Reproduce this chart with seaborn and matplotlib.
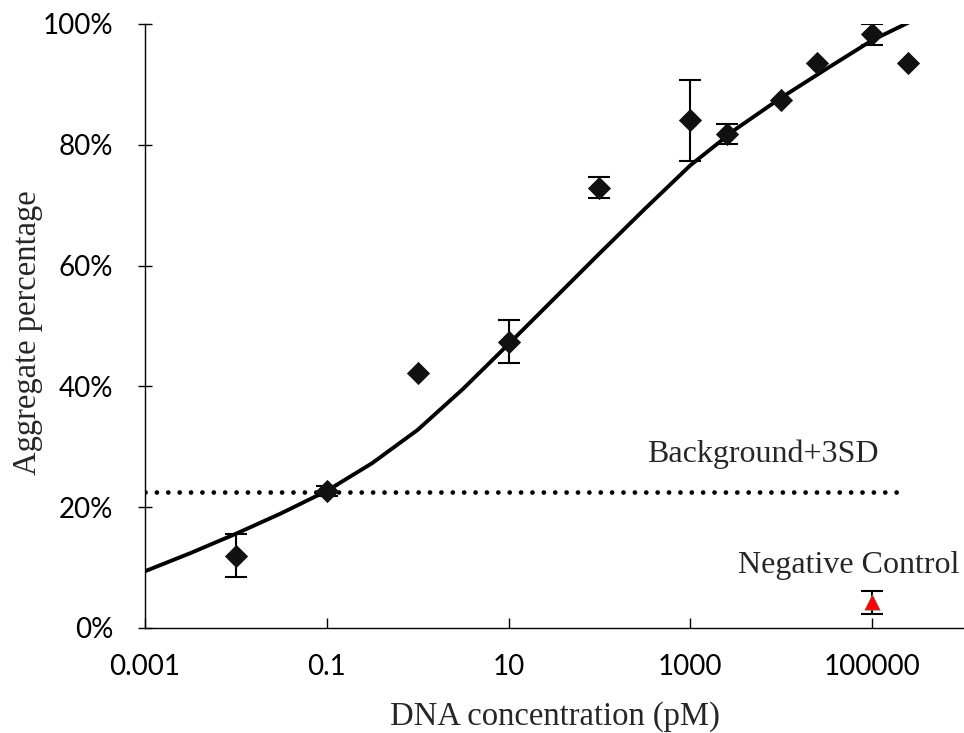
import numpy as np
import pandas as pd
import matplotlib
matplotlib.use("Agg")
import matplotlib.pyplot as plt
import seaborn as sns
from matplotlib.ticker import NullLocator

# Aggregate percentage measured at each DNA concentration (mean and error)
conc_pm = [0.01, 0.1, 1, 10, 100, 1000, 2500, 10000, 25000, 100000, 250000]
aggregate_pct = [12.0, 22.7, 42.2, 47.4, 72.9, 84.1, 81.8, 87.4, 93.5, 98.3, 93.5]
aggregate_err = [3.5, 0.8, 0.0, 3.6, 1.7, 6.7, 1.6, 0.0, 0.0, 1.7, 0.0]

# Dose-response fit, sampled along log10 concentration
fit_log_conc = [-3, -2.5, -2, -1.5, -1, -0.5, 0, 0.5, 1, 1.5, 2, 2.5,
                3, 3.5, 4, 4.5, 5, 5.45]
fit_pct = [9.4, 12.4, 15.6, 19.0, 22.7, 27.3, 32.8, 39.6, 47.0, 54.5, 62.0,
           69.4, 76.6, 82.6, 87.8, 92.6, 97.3, 100.6]

# Background + 3SD threshold
threshold_pct = 22.5
threshold_span = [0.001, 200000]

# Negative control
neg_conc = [100000]
neg_pct = [4.3]
neg_err = [1.9]

# Axis ticks
x_ticks = [0.001, 0.1, 10, 1000, 100000]
x_tick_labels = ["0.001", "0.1", "10", "1000", "100000"]
y_ticks = [0, 20, 40, 60, 80, 100]
y_tick_labels = [f"{v}%" for v in y_ticks]

sns.set_theme(style="white")
plt.rcParams["font.family"] = ["Liberation Serif", "DejaVu Serif"]

W, H = 964, 733
fig = plt.figure(figsize=(W / 100, H / 100), dpi=100)
ax = fig.add_axes([145 / W, 1 - 628 / H, (963 - 145) / W, (628 - 24) / H])
ax.set_xscale("log")
ax.set_xlim(1e-3, 1e6)
ax.set_ylim(0, 100)

# Threshold line (round dots)
thr = pd.DataFrame({"conc": threshold_span, "pct": [threshold_pct] * 2})
sns.lineplot(data=thr, x="conc", y="pct", ax=ax, color="black",
             linewidth=3.4, estimator=None)
ax.lines[-1].set_linestyle((0, (0.01, 2.4)))
ax.lines[-1].set_dash_capstyle("round")

# Fitted curve
fit = pd.DataFrame({"conc": [10.0 ** v for v in fit_log_conc], "pct": fit_pct})
sns.lineplot(data=fit, x="conc", y="pct", ax=ax, color="black",
             linewidth=2.8, estimator=None, sort=False)
ax.lines[-1].set_solid_joinstyle("round")

# Error bars for measured points
meas = pd.DataFrame({"conc": conc_pm, "pct": aggregate_pct, "err": aggregate_err})
eb = meas[meas["err"] > 0]
ax.errorbar(eb["conc"], eb["pct"], yerr=eb["err"], fmt="none", ecolor="black",
            elinewidth=1.5, capsize=8, capthick=1.5, zorder=3)

# Measured points
sns.scatterplot(data=meas, x="conc", y="pct", ax=ax, marker="D", s=140,
                color="#111111", linewidth=0, zorder=4)

# Negative control
neg = pd.DataFrame({"conc": neg_conc, "pct": neg_pct, "err": neg_err})
ax.errorbar(neg["conc"], neg["pct"], yerr=neg["err"], fmt="none",
            ecolor="black", elinewidth=1.5, capsize=8, capthick=1.5, zorder=3)
sns.scatterplot(data=neg, x="conc", y="pct", ax=ax, marker="^", s=120,
                color="#ff0000", edgecolor="#8a6a5a", linewidth=0.6, zorder=5)

# Annotations
ax.text(6237, 27.5, "Background+3SD", ha="center", va="baseline", fontsize=23)
ax.text(55850, 9.06, "Negative Control", ha="center", va="baseline", fontsize=23)

# Axes styling
for side in ["top", "right"]:
    ax.spines[side].set_visible(False)
for side in ["left", "bottom"]:
    ax.spines[side].set_color("black")
    ax.spines[side].set_linewidth(1.0)

ax.set_xticks(x_ticks)
ax.set_xticklabels(x_tick_labels)
ax.xaxis.set_minor_locator(NullLocator())
ax.set_yticks(y_ticks)
ax.set_yticklabels(y_tick_labels)
ax.tick_params(axis="both", which="major", bottom=True, left=True,
               width=1.0, color="black", labelsize=20, labelcolor="black")
ax.tick_params(axis="x", direction="in", length=7, pad=19)
ax.tick_params(axis="y", direction="inout", length=10, pad=18)
for lab in ax.get_xticklabels() + ax.get_yticklabels():
    lab.set_family(["Lato", "DejaVu Sans"])

ax.set_xlabel("DNA concentration (pM)", fontsize=23.5)
ax.xaxis.label.set_va("baseline")
ax.xaxis.set_label_coords(0.501, -(725 - 628) / 604)
ax.set_ylabel("Aggregate percentage", fontsize=23.5)
ax.yaxis.label.set_va("baseline")
ax.yaxis.set_label_coords((36 - 145) / 818, 0.489)

fig.savefig("out.png", dpi=100, facecolor="white")
